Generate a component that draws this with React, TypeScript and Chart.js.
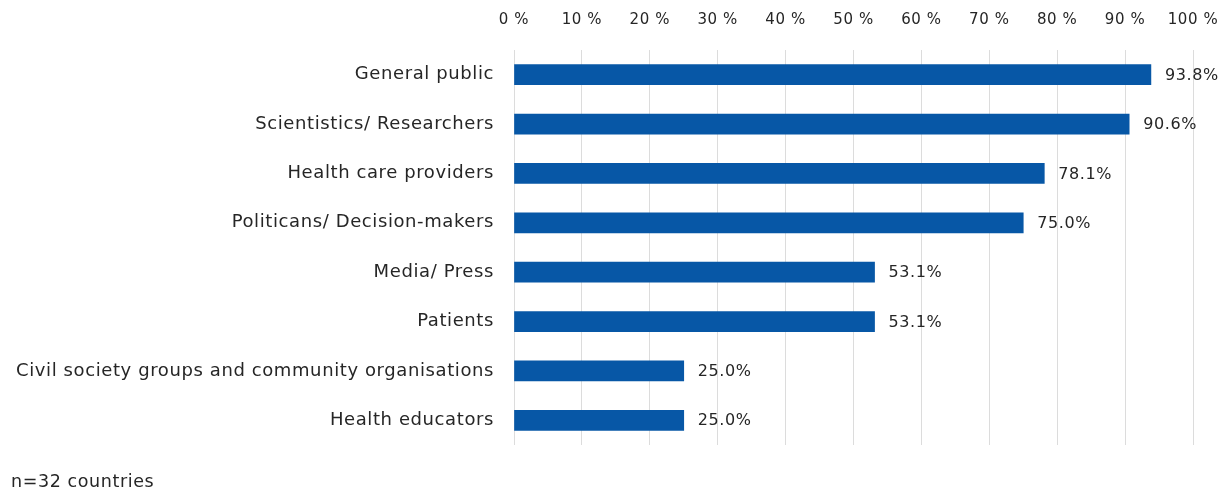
import React, { useEffect, useRef } from "react";
import { Chart, registerables } from "chart.js";

Chart.register(...registerables);

const categories: string[] = [
  "General public",
  "Scientistics/ Researchers",
  "Health care providers",
  "Politicans/ Decision-makers",
  "Media/ Press",
  "Patients",
  "Civil society groups and community organisations",
  "Health educators",
];
const values: number[] = [93.8, 90.6, 78.1, 75.0, 53.1, 53.1, 25.0, 25.0];
const tickValues: number[] = [0, 10, 20, 30, 40, 50, 60, 70, 80, 90, 100];
const footnote = "n=32 countries";

const BAR_COLOR = "#0757a6";
const TEXT_COLOR = "#262626";
const FONT = "'DejaVu Sans', Verdana, sans-serif";
const SPACING = "0.6px";

export default function App() {
  const ref = useRef<HTMLCanvasElement | null>(null);

  useEffect(() => {
    if (!ref.current) return;
    const spacingPlugin = {
      id: "spacing",
      beforeInit(chart: any) {
        chart.ctx.letterSpacing = SPACING;
      },
      beforeLayout(chart: any) {
        chart.ctx.letterSpacing = SPACING;
      },
      beforeDraw(chart: any) {
        chart.ctx.letterSpacing = SPACING;
      },
    };
    const labelPlugin = {
      id: "valueLabels",
      afterDatasetsDraw(chart: any) {
        const ctx = chart.ctx;
        const meta = chart.getDatasetMeta(0);
        ctx.save();
        ctx.letterSpacing = SPACING;
        ctx.font = `16px ${FONT}`;
        ctx.fillStyle = TEXT_COLOR;
        ctx.textAlign = "left";
        ctx.textBaseline = "middle";
        meta.data.forEach((bar: any, i: number) => {
          ctx.fillText(values[i].toFixed(1) + "%", bar.x + 14, bar.y + 1);
        });
        ctx.restore();
      },
    };
    const footPlugin = {
      id: "footnote",
      afterDraw(chart: any) {
        const ctx = chart.ctx;
        ctx.save();
        ctx.letterSpacing = SPACING;
        ctx.font = `17.5px ${FONT}`;
        ctx.fillStyle = TEXT_COLOR;
        ctx.textAlign = "left";
        ctx.textBaseline = "middle";
        ctx.fillText(footnote, 11, 482);
        ctx.restore();
      },
    };
    const chart = new Chart(ref.current, {
      type: "bar",
      data: {
        labels: categories,
        datasets: [
          {
            data: values,
            backgroundColor: BAR_COLOR,
            barThickness: 20,
          },
        ],
      },
      options: {
        indexAxis: "y",
        animation: false,
        responsive: false,
        maintainAspectRatio: false,
        layout: { padding: { left: 0, right: 34, top: 0, bottom: 46 } },
        plugins: {
          legend: { display: false },
          tooltip: { enabled: false },
        },
        scales: {
          x: {
            position: "top",
            min: 0,
            max: 100,
            afterBuildTicks(scale: any) {
              scale.ticks = tickValues.map((v) => ({ value: v }));
            },
            afterFit(scale: any) {
              scale.height = 50;
              scale.paddingLeft = 0;
              scale.paddingRight = 0;
            },
            grid: { color: "#dcdcdc", drawTicks: false },
            border: { display: false },
            ticks: {
              color: TEXT_COLOR,
              font: { family: FONT, size: 15 },
              padding: 21,
              callback: (v: any) => `${v} %`,
            },
          },
          y: {
            afterFit(scale: any) {
              scale.width = 514;
            },
            grid: { display: false, drawTicks: false },
            border: { display: false },
            ticks: {
              color: TEXT_COLOR,
              font: { family: FONT, size: 18 },
              padding: 20,
            },
          },
        },
      },
      plugins: [spacingPlugin, labelPlugin, footPlugin],
    });
    return () => chart.destroy();
  }, []);

  return (
    <div style={{ position: "fixed", left: 0, top: 0, width: 1227, height: 491, background: "#fff" }}>
      <canvas ref={ref} width={1227} height={491} />
    </div>
  );
}
